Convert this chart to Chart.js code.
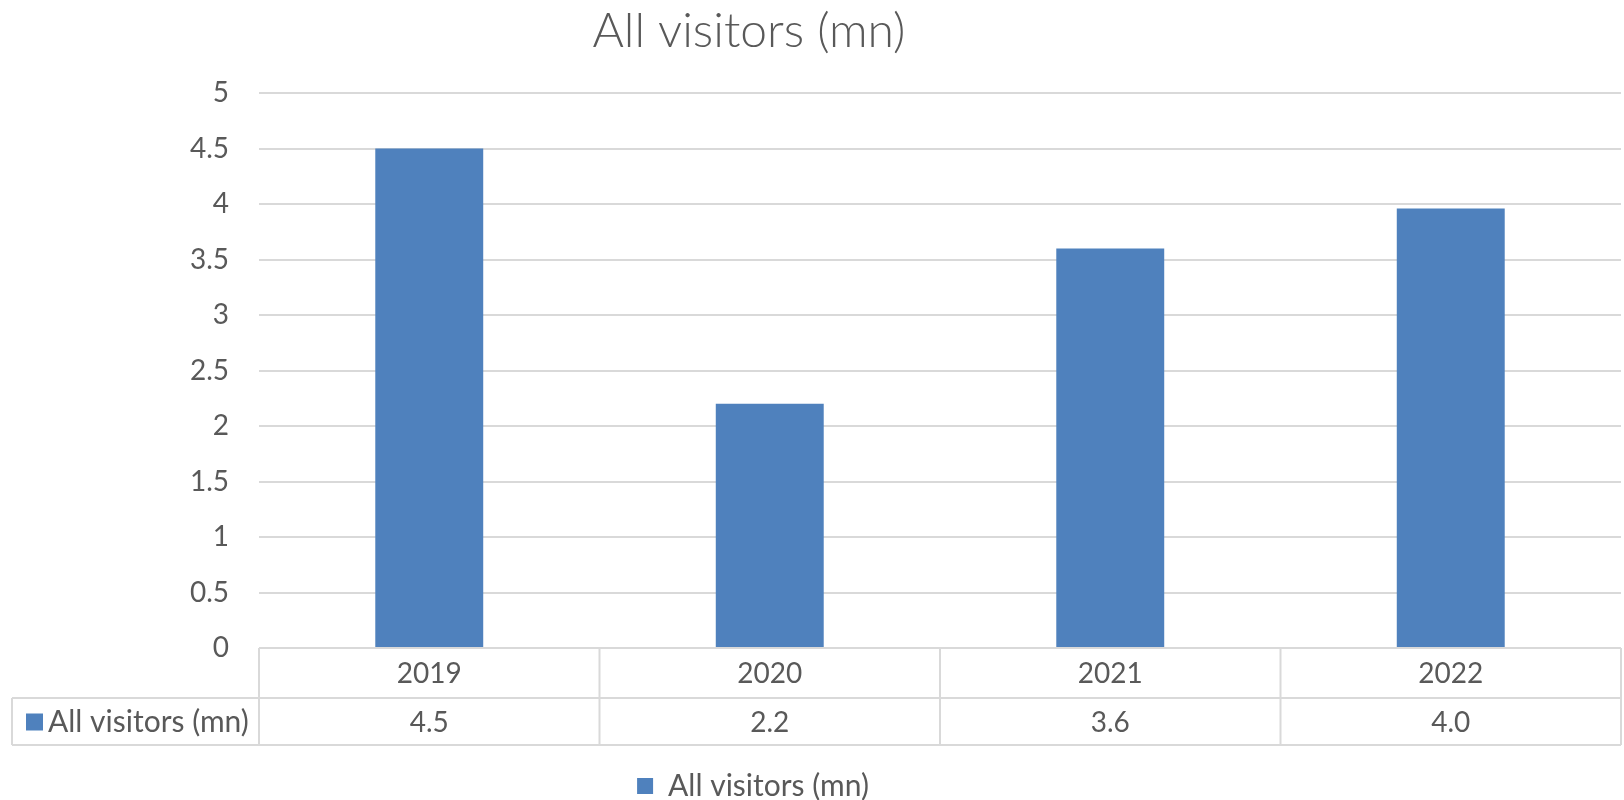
<!DOCTYPE html>
<html>
<head>
<meta charset="utf-8">
<script src="https://cdn.jsdelivr.net/npm/chart.js@4/dist/chart.umd.min.js"></script>
<style>
  html, body { margin: 0; padding: 0; background: #ffffff; }
  #wrap { width: 1624px; height: 800px; }
</style>
</head>
<body>
<div id="wrap"><canvas id="c" width="1624" height="800"></canvas></div>
<script>
const categories = ["2019", "2020", "2021", "2022"];
const seriesName = "All visitors (mn)";
const visitors = [4.5, 2.2, 3.6, 3.96];
const tableLabels = ["4.5", "2.2", "3.6", "4.0"];
const yTicks = [0, 0.5, 1, 1.5, 2, 2.5, 3, 3.5, 4, 4.5, 5];
const chartTitle = "All visitors (mn)";

const FONT = "Lato, 'Open Sans', sans-serif";
const TEXT = "#595959";
const GRID = "#d9d9d9";
const BAR = "#4f81bd";

const legendShift = {
  id: "legendShift",
  beforeDraw(chart) {
    const lg = chart.legend;
    if (lg) {
      lg.left = 0;
      lg.right = 1506;
      lg.width = 1506;
    }
  }
};

const tablePlugin = {
  id: "dataTable",
  afterDraw(chart) {
    const ctx = chart.ctx;
    const area = chart.chartArea;
    const x = chart.scales.x;
    const n = categories.length;
    const colW = (area.right - area.left) / n;
    const top = area.bottom;
    const mid = top + 50;
    const bot = top + 97;
    const leftEdge = 12;
    ctx.save();
    ctx.strokeStyle = GRID;
    ctx.lineWidth = 2;
    ctx.beginPath();
    ctx.moveTo(area.left, top); ctx.lineTo(area.right, top);
    ctx.moveTo(leftEdge, mid); ctx.lineTo(area.right, mid);
    ctx.moveTo(leftEdge, bot); ctx.lineTo(area.right, bot);
    for (let i = 0; i <= n; i++) {
      const xx = area.left + i * colW;
      ctx.moveTo(xx, top); ctx.lineTo(xx, bot);
    }
    ctx.moveTo(leftEdge, mid); ctx.lineTo(leftEdge, bot);
    ctx.stroke();

    ctx.fillStyle = TEXT;
    ctx.font = "28px " + FONT;
    ctx.textBaseline = "middle";
    ctx.textAlign = "center";
    const rowY = (mid + bot) / 2 + 1;
    for (let i = 0; i < n; i++) {
      ctx.fillText(tableLabels[i], x.getPixelForValue(i), rowY);
    }
    ctx.fillStyle = BAR;
    ctx.fillRect(26, rowY - 9, 17, 17);
    ctx.fillStyle = TEXT;
    ctx.textAlign = "left";
    ctx.font = "30px " + FONT;
    ctx.fillText(seriesName, 48, rowY);

    // title
    ctx.font = "300 48px " + FONT;
    ctx.textAlign = "center";
    ctx.textBaseline = "alphabetic";
    ctx.fillText(chartTitle, 749, 47);
    ctx.restore();
  }
};

new Chart(document.getElementById("c"), {
  type: "bar",
  data: {
    labels: categories,
    datasets: [{
      label: seriesName,
      data: visitors,
      backgroundColor: BAR,
      borderWidth: 0,
      barPercentage: 0.317,
      categoryPercentage: 1.0
    }]
  },
  options: {
    responsive: false,
    animation: false,
    layout: { padding: { top: 93, right: 3, bottom: -11, left: 0 } },
    plugins: {
      title: { display: false },
      tooltip: { enabled: false },
      legend: {
        display: true,
        position: "bottom",
        labels: {
          color: TEXT,
          font: { family: FONT, size: 30 },
          boxWidth: 16,
          boxHeight: 16,
          padding: 10
        }
      }
    },
    scales: {
      x: {
        grid: { display: false, drawTicks: false },
        border: { display: false },
        ticks: { color: TEXT, font: { family: FONT, size: 28 }, padding: 9, maxRotation: 0 },
        afterFit(scale) { scale.height = 113; }
      },
      y: {
        min: 0,
        max: 5,
        afterBuildTicks(scale) { scale.ticks = yTicks.map(v => ({ value: v })); },
        grid: { color: GRID, lineWidth: 2, drawTicks: false },
        border: { display: false },
        ticks: {
          color: TEXT,
          font: { family: FONT, size: 28 },
          padding: 30,
          callback(value) { return String(value); }
        },
        afterFit(scale) { scale.width = 259; }
      }
    }
  },
  plugins: [legendShift, tablePlugin]
});
</script>
</body>
</html>
